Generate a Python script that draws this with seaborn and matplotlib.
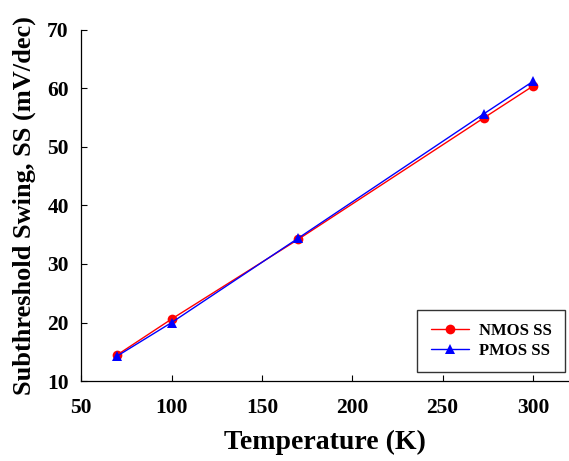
import matplotlib
matplotlib.use("Agg")
import matplotlib.pyplot as plt
import seaborn as sns
import pandas as pd

temperature = [70, 100, 170, 273, 300]
nmos_ss = [14.5, 20.6, 34.2, 55.0, 60.4]
pmos_ss = [14.3, 20.0, 34.4, 55.7, 61.2]
series_names = ["NMOS SS", "PMOS SS"]

df = pd.DataFrame({
    "T": temperature * 2,
    "SS": nmos_ss + pmos_ss,
    "series": [series_names[0]] * len(temperature) + [series_names[1]] * len(temperature),
})

sns.set_style("ticks")
plt.rcParams["font.family"] = ["Liberation Serif", "DejaVu Serif"]
plt.rcParams["font.weight"] = "bold"
plt.rcParams["text.color"] = "black"
plt.rcParams["axes.labelcolor"] = "black"

fig = plt.figure(figsize=(5.69, 4.61), dpi=100)
ax = fig.add_axes([0.143, 0.1735, 0.857, 0.7615])

sns.lineplot(data=df, x="T", y="SS", hue="series", style="series",
             palette={"NMOS SS": "#ff0000", "PMOS SS": "#0000ff"},
             markers={"NMOS SS": "o", "PMOS SS": "^"}, dashes=False,
             markersize=7, linewidth=1.0, markeredgewidth=0, ax=ax, legend=True)

ax.set_xlim(50, 320)
ax.set_ylim(10, 70)
ax.set_xticks([50, 100, 150, 200, 250, 300])
ax.set_yticks([10, 20, 30, 40, 50, 60, 70])
ax.tick_params(direction="in", length=4, width=0.8, labelsize=15.5, colors="black")
ax.tick_params(axis="x", pad=12)
ax.tick_params(axis="y", pad=9)
for lab in ax.get_xticklabels() + ax.get_yticklabels():
    lab.set_fontweight("bold")
ax.set_xlabel("Temperature (K)", fontsize=20, fontweight="bold", labelpad=9, color="black")
ax.set_ylabel("Subthreshold Swing, SS (mV/dec)", fontsize=19, fontweight="bold", labelpad=8, color="black")
for s in ["top", "right"]:
    ax.spines[s].set_visible(False)
for s in ["left", "bottom"]:
    ax.spines[s].set_color("black")
    ax.spines[s].set_linewidth(0.9)

leg = ax.legend(title=None, loc="lower right", bbox_to_anchor=(0.992, 0.026),
                prop={"size": 12, "weight": "bold"}, frameon=True, fancybox=False,
                edgecolor="black", handlelength=2.3, borderpad=0.8, labelspacing=0.2,
                handletextpad=0.6, borderaxespad=0)
leg.get_frame().set_linewidth(1.0)
for t in leg.get_texts():
    t.set_color("black")

fig.savefig("out.png", dpi=100)
